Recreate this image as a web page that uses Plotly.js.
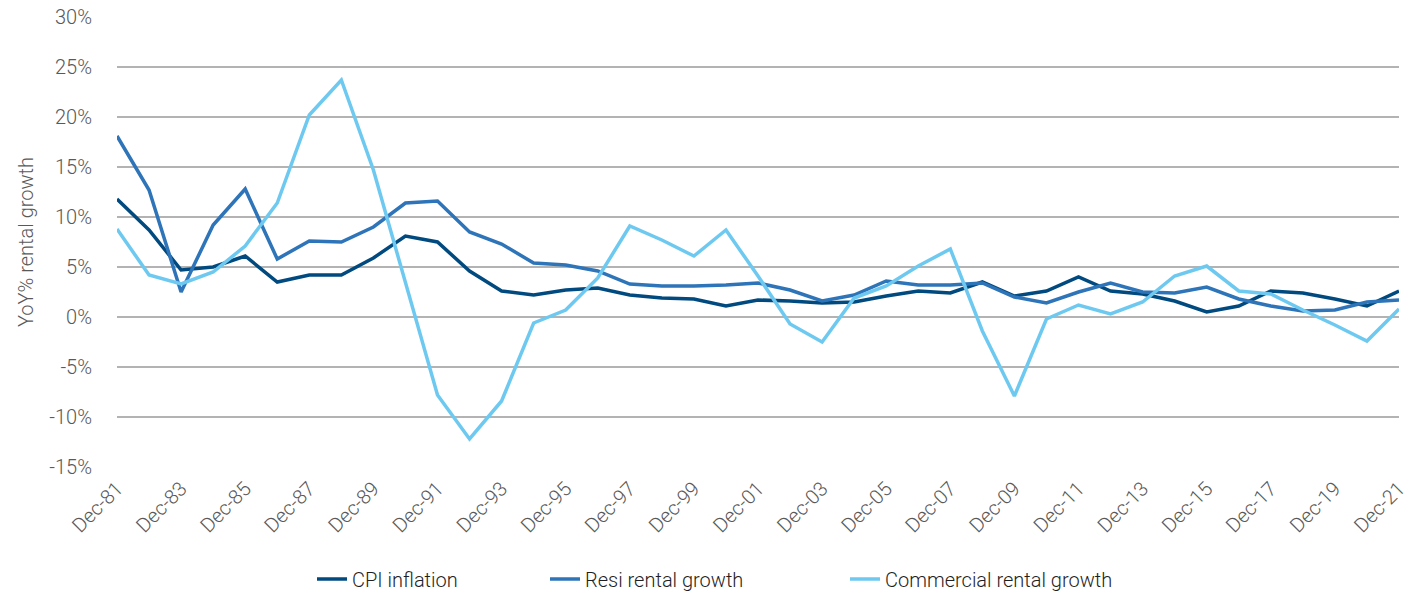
<!DOCTYPE html>
<html>
<head>
<meta charset="utf-8">
<script src="https://cdn.plot.ly/plotly-3.0.1.min.js"></script>
<style>html,body{margin:0;padding:0;background:#fff;}#chart{width:1416px;height:593px;}</style>
</head>
<body>
<div id="chart"></div>
<script>
const years = ["Dec-81","Dec-82","Dec-83","Dec-84","Dec-85","Dec-86","Dec-87","Dec-88","Dec-89","Dec-90",
  "Dec-91","Dec-92","Dec-93","Dec-94","Dec-95","Dec-96","Dec-97","Dec-98","Dec-99","Dec-00",
  "Dec-01","Dec-02","Dec-03","Dec-04","Dec-05","Dec-06","Dec-07","Dec-08","Dec-09","Dec-10",
  "Dec-11","Dec-12","Dec-13","Dec-14","Dec-15","Dec-16","Dec-17","Dec-18","Dec-19","Dec-20","Dec-21"];
const tickLabels = ["Dec-81","Dec-83","Dec-85","Dec-87","Dec-89","Dec-91","Dec-93","Dec-95","Dec-97","Dec-99",
  "Dec-01","Dec-03","Dec-05","Dec-07","Dec-09","Dec-11","Dec-13","Dec-15","Dec-17","Dec-19","Dec-21"];
const yTickVals = [-15, -10, -5, 0, 5, 10, 15, 20, 25, 30];
const yTickLabels = ["-15%","-10%","-5%","0%","5%","10%","15%","20%","25%","30%"];
const cpiInflation = [11.8,8.7,4.7,5.0,6.1,3.5,4.2,4.2,5.9,8.1,
  7.5,4.6,2.6,2.2,2.7,2.9,2.2,1.9,1.8,1.1,
  1.7,1.6,1.4,1.5,2.1,2.6,2.4,3.5,2.1,2.6,
  4.0,2.6,2.3,1.6,0.5,1.1,2.6,2.4,1.8,1.1,2.6];
const resiRentalGrowth = [18.1,12.7,2.5,9.2,12.8,5.8,7.6,7.5,9.0,11.4,
  11.6,8.5,7.3,5.4,5.2,4.6,3.3,3.1,3.1,3.2,
  3.4,2.7,1.6,2.2,3.6,3.2,3.2,3.4,2.0,1.4,
  2.5,3.4,2.5,2.4,3.0,1.8,1.1,0.6,0.7,1.5,1.7];
const commercialRentalGrowth = [8.8,4.2,3.3,4.5,7.1,11.4,20.2,23.7,14.7,3.3,
  -7.8,-12.2,-8.4,-0.6,0.7,3.9,9.1,7.7,6.1,8.7,
  4.1,-0.7,-2.5,1.9,3.1,5.1,6.8,-1.4,-7.9,-0.2,
  1.2,0.3,1.5,4.1,5.1,2.6,2.3,0.7,-0.8,-2.4,0.8];

const baseFont = {family: "Roboto, sans-serif", size: 20, color: "#595959", weight: 300};
const mk = (name, y, color, leg) => ({
  type: "scatter", mode: "lines", name: name, x: years, y: y,
  line: {color: color, width: 3.5}, legend: leg, hoverinfo: "x+y+name"
});
const data = [
  mk("CPI inflation", cpiInflation, "#004a7f", "legend"),
  mk("Resi rental growth", resiRentalGrowth, "#2e74b8", "legend2"),
  mk("Commercial rental growth", commercialRentalGrowth, "#6ec9f1", "legend3")
];
const legFont = {family: "Roboto, sans-serif", size: 20, color: "#1f1f1f", weight: 300};
const legBase = {orientation: "h", yref: "container", xref: "container", yanchor: "middle", y: 14 / 593, xanchor: "left", font: legFont, bgcolor: "rgba(0,0,0,0)"};
const layout = {
  width: 1416, height: 593,
  margin: {l: 117, r: 17, t: 17, b: 126, autoexpand: false},
  paper_bgcolor: "#ffffff", plot_bgcolor: "#ffffff",
  font: baseFont,
  xaxis: {
    type: "category", categoryorder: "array", categoryarray: years,
    tickmode: "array", tickvals: tickLabels, ticktext: tickLabels,
    tickangle: -45, showgrid: false, showline: false, zeroline: false, automargin: false,
    ticks: "", ticklabelstandoff: 5, tickfont: baseFont, range: [0, years.length - 1], fixedrange: true
  },
  yaxis: {
    range: [-15, 30], tickmode: "array", tickvals: yTickVals, ticktext: yTickLabels, automargin: false,
    showgrid: true, gridcolor: "#b3b3b3", gridwidth: 1.3,
    zeroline: false, showline: false, ticks: "", ticklabelstandoff: 24,
    tickfont: baseFont,
    title: {text: "YoY% rental growth", font: baseFont, standoff: 10}
  },
  legend: Object.assign({}, legBase, {x: 312 / 1416}),
  legend2: Object.assign({}, legBase, {x: 545 / 1416}),
  legend3: Object.assign({}, legBase, {x: 845 / 1416}),
  showlegend: true
};
Plotly.newPlot("chart", data, layout, {displayModeBar: false, staticPlot: true});
</script>
</body>
</html>
